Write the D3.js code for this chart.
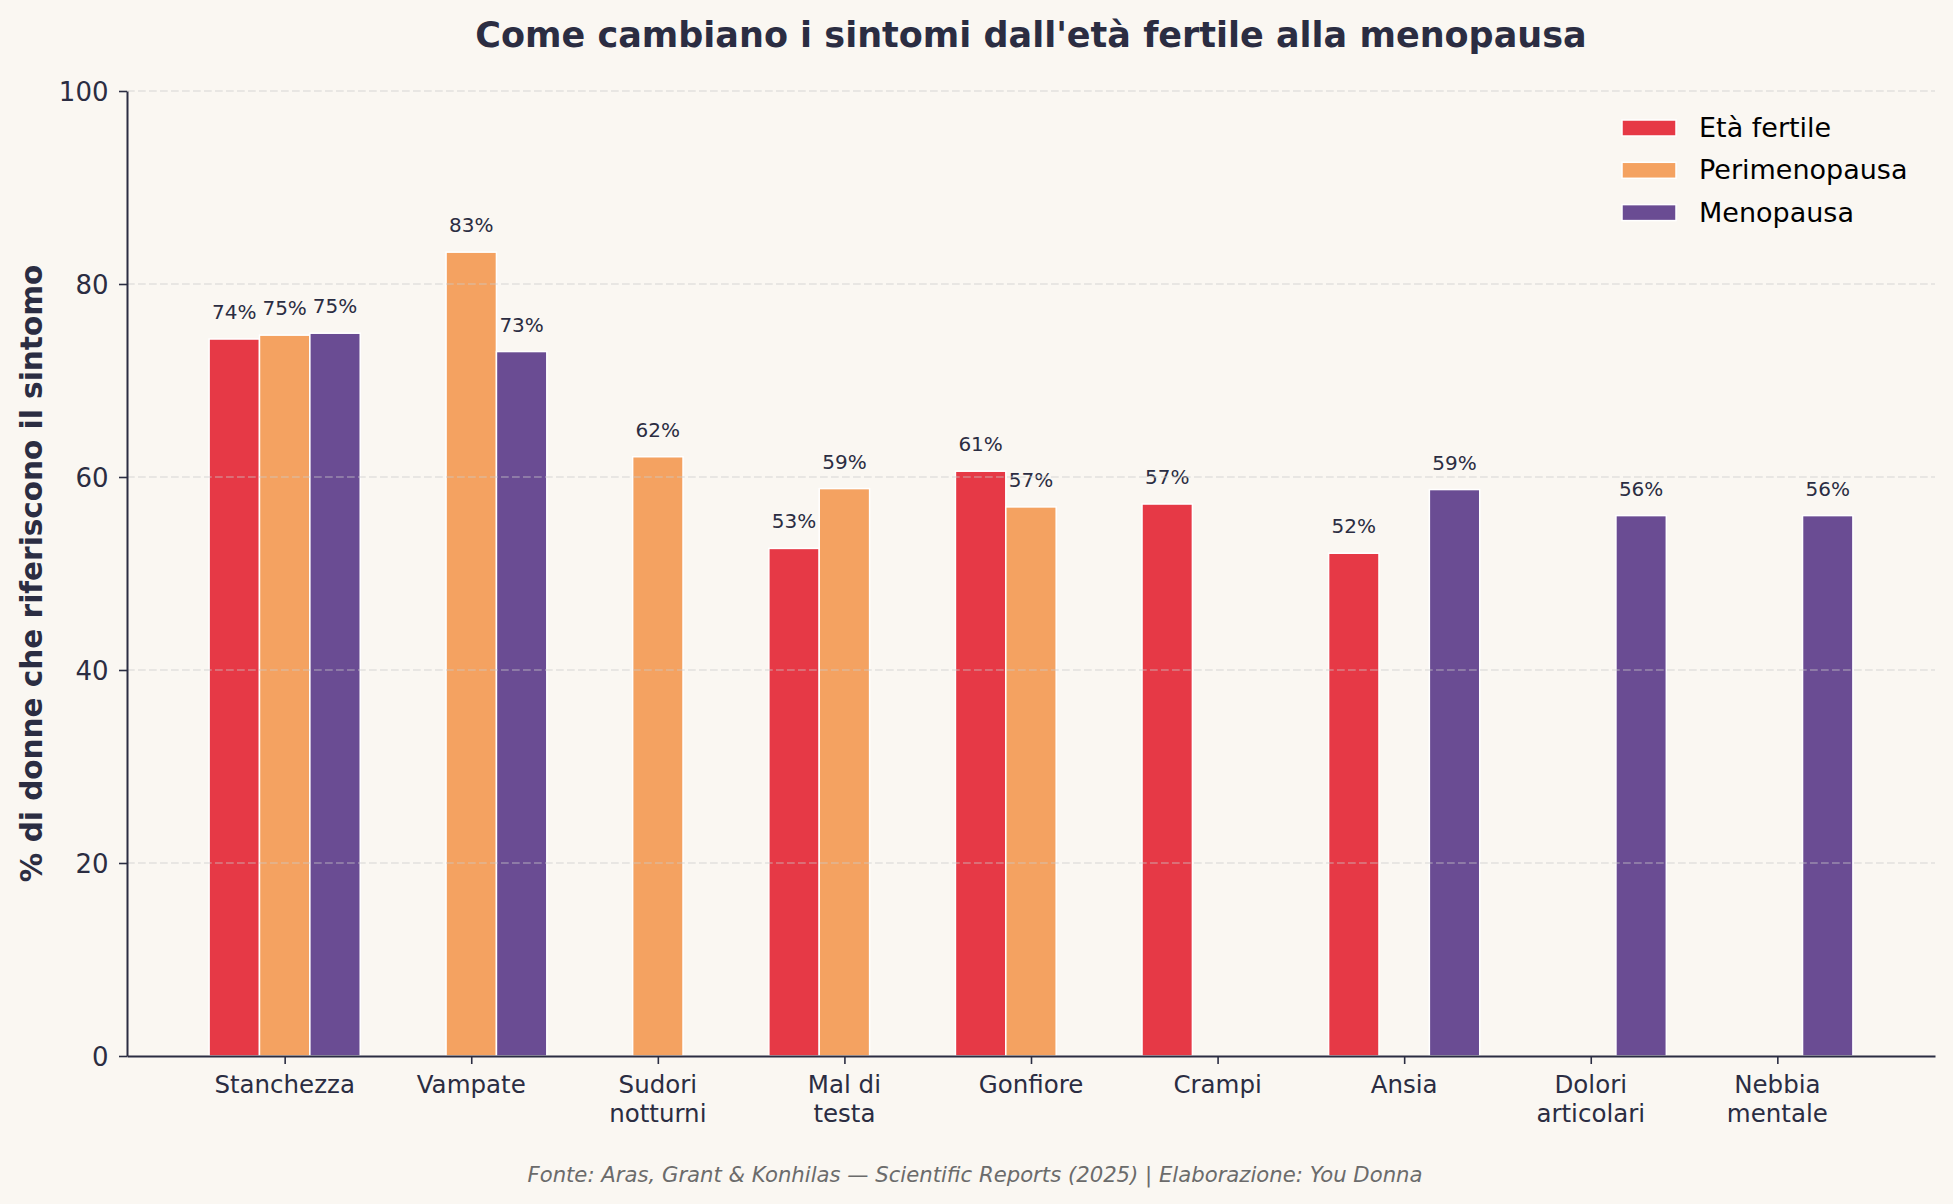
<!DOCTYPE html>
<html>
<head>
<meta charset="utf-8">
<script src="https://cdn.jsdelivr.net/npm/d3@7"></script>
<style>
  body { margin: 0; background: #FAF7F2; }
  text { font-family: "DejaVu Sans", sans-serif; }
</style>
</head>
<body>
<script>
// data
var categories = ["Stanchezza", "Vampate", "Sudori\nnotturni", "Mal di\ntesta",
                  "Gonfiore", "Crampi", "Ansia", "Dolori\narticolari", "Nebbia\nmentale"];
var seriesNames = ["Età fertile", "Perimenopausa", "Menopausa"];
var fertile = [74.3, null, null, 52.6, 60.6, 57.2, 52.1, null, null];
var perimeno = [74.7, 83.3, 62.1, 58.8, 56.9, null, null, null, null];
var meno = [74.9, 73.0, null, null, null, null, 58.7, 56.0, 56.0];
var yTicks = [0, 20, 40, 60, 80, 100];
var seriesColors = ["#E63946", "#F4A261", "#6A4C93"];

var ink = "#2B2D42";

window.onload = function() {
  /*
  set up the svg and draw everything
  */

  // parameters plot
  margin = {
    left: 127,
    right: 18,
    top: 91,
    bottom: 148
  };
  param = {
    width: 1953,
    height: 1204
  };

  svg = d3.select("body")
          .append("svg")
          .attr("width", param.width)
          .attr("height", param.height)
          .style("background", "#FAF7F2");

  svg.append("rect")
     .attr("width", param.width)
     .attr("height", param.height)
     .attr("fill", "#FAF7F2");

  var scales = scaleMaker();
  barGraph(scales);
  axesMaker(scales);
  legendMaker();
  textMaker(scales);
};


function scaleMaker() {
  /*
  linear x scale so the bars can be offset
  around each category position
  */
  var xScale = d3.scaleLinear()
                 .domain([-0.845, categories.length - 1 + 0.845])
                 .range([margin.left, param.width - margin.right]);
  var yScale = d3.scaleLinear()
                 .domain([0, 100])
                 .range([param.height - margin.bottom, margin.top]);
  return [xScale, yScale];
};


function barGraph(scales) {
  /*
  grouped bars, skipping missing values
  */
  var x = scales[0];
  var y = scales[1];
  var barWidth = 0.27;
  var allSeries = [fertile, perimeno, meno];

  var rows = [];
  allSeries.forEach(function(values, s) {
    values.forEach(function(v, i) {
      if (v !== null) {
        rows.push({cat: i, series: s, value: v, pos: i + (s - 1) * barWidth});
      };
    });
  });

  svg.append("g")
     .selectAll("rect")
     .data(rows)
     .enter()
     .append("rect")
     .attr("x", function(d) { return x(d.pos - barWidth / 2); })
     .attr("width", function(d) { return x(barWidth) - x(0); })
     .attr("y", function(d) { return y(d.value); })
     .attr("height", function(d) { return y(0) - y(d.value); })
     .attr("fill", function(d) { return seriesColors[d.series]; })
     .attr("stroke", "white")
     .attr("stroke-width", 1.5);

  // value labels above the bars
  svg.append("g")
     .selectAll("text")
     .data(rows)
     .enter()
     .append("text")
     .attr("x", function(d) { return x(d.pos); })
     .attr("y", function(d) { return y(d.value) - 20; })
     .attr("text-anchor", "middle")
     .style("font-size", "20px")
     .attr("fill", ink)
     .text(function(d) { return Math.round(d.value) + "%"; });
};


function axesMaker(scales) {
  /*
  grid, spines, ticks and tick labels
  */
  var x = scales[0];
  var y = scales[1];

  // dashed grid, drawn over the bars like matplotlib does
  svg.append("g")
     .selectAll("line")
     .data(yTicks.slice(1))
     .enter()
     .append("line")
     .attr("x1", margin.left)
     .attr("x2", param.width - margin.right)
     .attr("y1", function(d) { return y(d); })
     .attr("y2", function(d) { return y(d); })
     .attr("stroke", "#cccccc")
     .attr("stroke-opacity", 0.5)
     .attr("stroke-width", 1.6)
     .attr("stroke-dasharray", "7.7,3.3");

  // y axis
  var yAxis = d3.axisLeft(y)
                .tickValues(yTicks)
                .tickSize(8)
                .tickPadding(10.5)
                .tickSizeOuter(0);
  var gy = svg.append("g")
              .attr("transform", "translate(" + margin.left + ",0)")
              .call(yAxis);
  gy.select(".domain").attr("stroke", ink).attr("stroke-width", 2);
  gy.selectAll(".tick line").attr("stroke", ink).attr("stroke-width", 1.6);
  gy.selectAll(".tick text")
    .attr("fill", ink)
    .attr("dy", null)
    .attr("dominant-baseline", "central")
    .style("font-size", "26px")
    .style("font-family", "DejaVu Sans");

  // x axis
  var xAxis = d3.axisBottom(x)
                .tickValues(d3.range(categories.length))
                .tickSize(8)
                .tickSizeOuter(0)
                .tickFormat("");
  var gx = svg.append("g")
              .attr("transform", "translate(0," + y(0) + ")")
              .call(xAxis);
  gx.select(".domain").attr("stroke", ink).attr("stroke-width", 2);
  gx.selectAll(".tick line").attr("stroke", ink).attr("stroke-width", 1.6);

  // category labels, split over lines
  var labels = svg.append("g")
                  .selectAll("text")
                  .data(categories)
                  .enter()
                  .append("text")
                  .attr("text-anchor", "middle")
                  .attr("fill", ink)
                  .style("font-size", "24.5px")
                  .attr("transform", function(d, i) {
                    return "translate(" + x(i) + "," + (y(0) + 37) + ")";
                  });
  labels.selectAll("tspan")
        .data(function(d) { return d.split("\n"); })
        .enter()
        .append("tspan")
        .attr("x", 0)
        .attr("y", function(d, j) { return j * 28.5; })
        .text(function(d) { return d; });

  // y label
  svg.append("text")
     .attr("transform", "translate(42," + (y(50)) + ") rotate(-90)")
     .attr("text-anchor", "middle")
     .attr("fill", ink)
     .style("font-size", "29.5px")
     .style("font-weight", "bold")
     .text("% di donne che riferiscono il sintomo");
};


function legendMaker() {
  /*
  legend in the top right corner, no frame
  */
  var legend = svg.append("g")
                  .attr("transform", "translate(1622,128)");

  var items = legend.selectAll("g")
                    .data(seriesNames)
                    .enter()
                    .append("g")
                    .attr("transform", function(d, i) {
                      return "translate(0," + i * 42.3 + ")";
                    });

  items.append("rect")
       .attr("x", 0)
       .attr("y", -8)
       .attr("width", 54)
       .attr("height", 16)
       .attr("fill", function(d, i) { return seriesColors[i]; })
       .attr("stroke", "white")
       .attr("stroke-width", 1.5);

  items.append("text")
       .attr("x", 77)
       .attr("y", 9)
       .attr("fill", "black")
       .style("font-size", "27px")
       .text(function(d) { return d; });
};


function textMaker(scales) {
  /*
  title and footer
  */
  var x = scales[0];

  svg.append("text")
     .attr("x", (margin.left + param.width - margin.right) / 2)
     .attr("y", 47)
     .attr("text-anchor", "middle")
     .attr("fill", ink)
     .style("font-size", "35px")
     .style("font-weight", "bold")
     .text("Come cambiano i sintomi dall'età fertile alla menopausa");

  svg.append("text")
     .attr("x", 975)
     .attr("y", 1182)
     .attr("text-anchor", "middle")
     .attr("fill", "#6b6b6b")
     .style("font-size", "21.2px")
     .style("font-style", "italic")
     .text("Fonte: Aras, Grant & Konhilas — Scientific Reports (2025) | Elaborazione: You Donna");
};
</script>
</body>
</html>
